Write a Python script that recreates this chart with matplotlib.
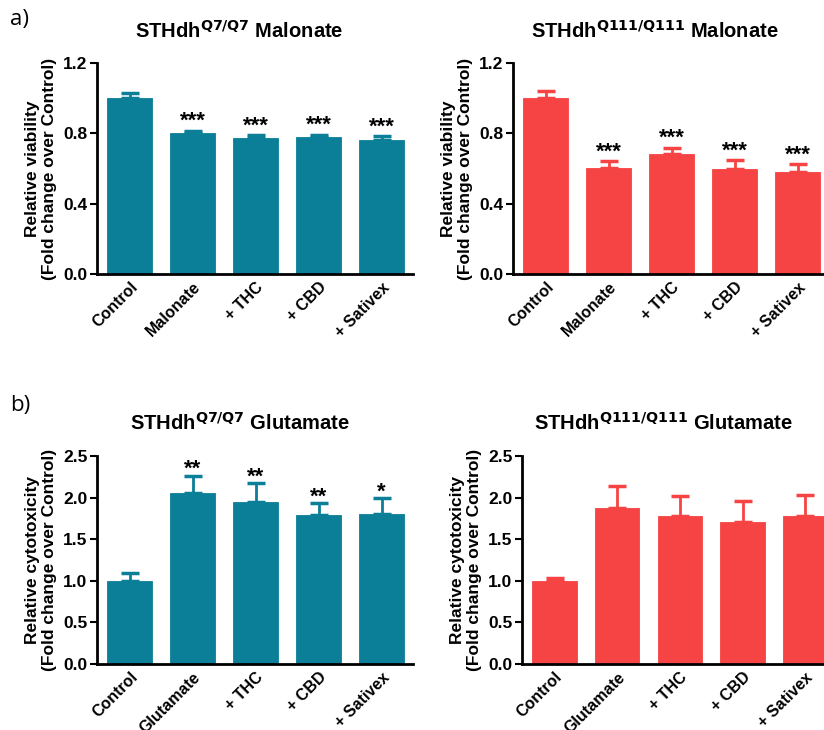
import matplotlib
matplotlib.use("Agg")
import matplotlib.pyplot as plt
import numpy as np

plt.rcParams['font.family'] = ['Liberation Sans', 'DejaVu Sans']

TEAL = '#0A7F97'
RED = '#F64343'

# Malonate viability
mal_labels = ['Control', 'Malonate', '+ THC', '+ CBD', '+ Sativex']
mal_q7 = [1.00, 0.80, 0.773, 0.78, 0.762]
mal_q7_err = [0.03, 0.015, 0.018, 0.013, 0.023]
mal_q7_sig = ['', '***', '***', '***', '***']
mal_q111 = [1.00, 0.605, 0.68, 0.597, 0.582]
mal_q111_err = [0.04, 0.036, 0.038, 0.050, 0.044]
mal_q111_sig = ['', '***', '***', '***', '***']

# Glutamate cytotoxicity
glu_labels = ['Control', 'Glutamate', '+ THC', '+ CBD', '+ Sativex']
glu_q7 = [1.00, 2.06, 1.95, 1.79, 1.80]
glu_q7_err = [0.09, 0.20, 0.22, 0.14, 0.19]
glu_q7_sig = ['', '**', '**', '**', '*']
glu_q111 = [1.00, 1.88, 1.776, 1.712, 1.78]
glu_q111_err = [0.036, 0.256, 0.24, 0.244, 0.252]
glu_q111_sig = ['', '', '', '', '']

fig = plt.figure(figsize=(8.24, 7.30), dpi=100)


def panel(rect, labels, vals, errs, sig, color, ymax, yticks, ylabel, title,
          title_x, title_y, xright, star_off):
    ax = fig.add_axes(rect)
    x = np.arange(len(vals))
    ax.bar(x, vals, width=0.71, color=color, edgecolor=color, linewidth=0.6,
           zorder=2)
    ax.errorbar(x, vals, yerr=[np.zeros(len(errs)), errs], fmt='none',
                ecolor=color, elinewidth=2, capsize=6.5, capthick=2.5,
                zorder=1)
    for xi, v, e, s in zip(x, vals, errs, sig):
        if s:
            ax.annotate(s, (xi, v + e), xytext=(0, star_off),
                        textcoords='offset points', ha='center', va='bottom',
                        fontsize=16, fontweight='bold')
    ax.set_xlim(-0.52, xright)
    ax.set_ylim(0, ymax)
    ax.set_yticks(yticks)
    ax.set_yticklabels([f'{t:.1f}' for t in yticks], fontsize=12.5,
                       fontweight='bold')
    ax.set_xticks(x)
    ax.set_xticklabels(labels, rotation=45, ha='right',
                       rotation_mode='anchor', fontsize=11.5,
                       fontweight='bold')
    ax.tick_params(axis='x', length=0, pad=4)
    ax.tick_params(axis='y', length=5, width=1.5, pad=2)
    for sp in ['top', 'right']:
        ax.spines[sp].set_visible(False)
    for sp in ['left', 'bottom']:
        ax.spines[sp].set_linewidth(2)
    ax.set_ylabel(ylabel, fontsize=12.5, fontweight='bold', labelpad=4,
                  linespacing=1.2)
    fig.text(title_x, title_y, title, ha='center', va='center',
             fontsize=14.5, fontweight='bold')
    return ax


W, H = 824, 730


def r(x0, x1, ytop, ybot):
    return [x0 / W, 1 - ybot / H, (x1 - x0) / W, (ybot - ytop) / H]


panel(r(97, 413, 63, 274), mal_labels, mal_q7, mal_q7_err, mal_q7_sig, TEAL,
      1.2, [0.0, 0.4, 0.8, 1.2],
      'Relative viability\n(Fold change over Control)',
      r'STHdh$^{\mathbf{Q7/Q7}}$ Malonate', 239 / W, 1 - 31 / H, 4.5, -1)
panel(r(513, 824, 63, 274), mal_labels, mal_q111, mal_q111_err, mal_q111_sig,
      RED, 1.2, [0.0, 0.4, 0.8, 1.2],
      'Relative viability\n(Fold change over Control)',
      r'STHdh$^{\mathbf{Q111/Q111}}$ Malonate', 655 / W, 1 - 31 / H, 4.42, -1)
panel(r(97, 413, 456, 664), glu_labels, glu_q7, glu_q7_err, glu_q7_sig, TEAL,
      2.5, [0.0, 0.5, 1.0, 1.5, 2.0, 2.5],
      'Relative cytotoxicity\n(Fold change over Control)',
      r'STHdh$^{\mathbf{Q7/Q7}}$ Glutamate', 240 / W, 1 - 423 / H, 4.5, -3)
panel(r(522, 824, 456, 664), glu_labels, glu_q111, glu_q111_err,
      glu_q111_sig, RED, 2.5, [0.0, 0.5, 1.0, 1.5, 2.0, 2.5],
      'Relative cytotoxicity\n(Fold change over Control)',
      r'STHdh$^{\mathbf{Q111/Q111}}$ Glutamate', 663 / W, 1 - 423 / H, 4.3, 0)

fig.text(10 / W, 1 - 20 / H, 'a)', fontsize=16, family='Open Sans',
         va='center', ha='left')
fig.text(10 / W, 1 - 405 / H, 'b)', fontsize=16, family='Open Sans',
         va='center', ha='left')

fig.savefig('out.png', dpi=100)
